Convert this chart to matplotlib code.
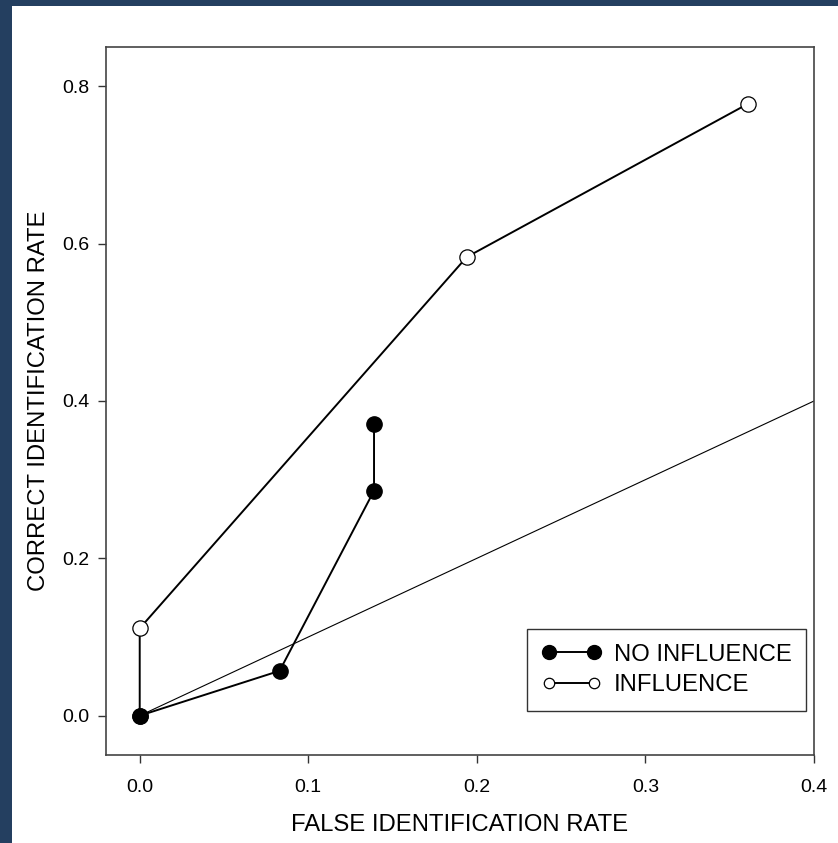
import matplotlib
matplotlib.use("Agg")
import matplotlib.pyplot as plt
from matplotlib.patches import Rectangle

plt.rcParams['font.family'] = ['Liberation Sans', 'DejaVu Sans']

# data
no_infl_x = [0.0, 0.083, 0.139, 0.139]
no_infl_y = [0.0, 0.057, 0.286, 0.371]
infl_x = [0.0, 0.0, 0.194, 0.361]
infl_y = [0.0, 0.111, 0.583, 0.778]
chance_x = [0.0, 0.4]
chance_y = [0.0, 0.4]
xticks = [0.0, 0.1, 0.2, 0.3, 0.4]
yticks = [0.0, 0.2, 0.4, 0.6, 0.8]

fig = plt.figure(figsize=(8.38, 8.43), dpi=100)
fig.patch.set_facecolor('white')
navy = '#243f60'
fig.patches.append(Rectangle((0, 0), 12 / 838, 1, transform=fig.transFigure,
                             facecolor=navy, edgecolor='none', zorder=0))
fig.patches.append(Rectangle((0, 1 - 6 / 843), 1, 6 / 843, transform=fig.transFigure,
                             facecolor=navy, edgecolor='none', zorder=0))

ax = fig.add_axes([106 / 838, 1 - 755 / 843, 708 / 838, 708 / 843])

ax.plot(chance_x, chance_y, color='black', lw=0.8, zorder=1)
ax.plot(infl_x, infl_y, color='black', lw=1.4, marker='o', ms=11,
        mfc='white', mec='black', mew=0.9, label='INFLUENCE', zorder=2)
ax.plot(no_infl_x, no_infl_y, color='black', lw=1.4, marker='o', ms=11,
        mfc='black', mec='black', label='NO INFLUENCE', zorder=3)

ax.set_xlim(-0.02, 0.4)
ax.set_ylim(-0.05, 0.85)
ax.set_xticks(xticks)
ax.set_yticks(yticks)
ax.set_xticklabels(['%.1f' % v for v in xticks])
ax.set_yticklabels(['%.1f' % v for v in yticks])
ax.tick_params(direction='out', length=6, width=1.0, labelsize=14, color='#333333')
ax.tick_params(axis='x', pad=11)
ax.tick_params(axis='y', pad=6)
for s in ax.spines.values():
    s.set_linewidth(1.2)
    s.set_color('#444444')

ax.set_xlabel('FALSE IDENTIFICATION RATE', fontsize=17.2, labelpad=13)
ax.set_ylabel('CORRECT IDENTIFICATION RATE', fontsize=17.2, labelpad=9)

h, l = ax.get_legend_handles_labels()
leg = ax.legend(h[::-1], l[::-1], loc='lower right', bbox_to_anchor=(0.989, 0.0625),
                numpoints=2, handlelength=2.5, fontsize=17.2, frameon=True,
                fancybox=False, edgecolor='black', borderpad=0.62, labelspacing=0.35,
                handletextpad=0.5, borderaxespad=0)
leg.get_frame().set_linewidth(1.0)
leg.legend_handles[0].set_markersize(10)
leg.legend_handles[1].set_markersize(7.5)

fig.savefig('out.png', dpi=100, facecolor='white')
